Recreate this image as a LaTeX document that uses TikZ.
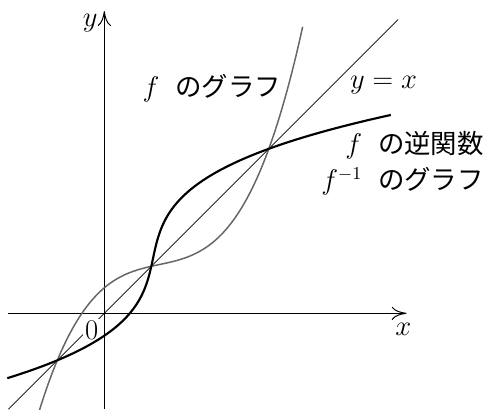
\documentclass[tikz,border=0pt]{standalone}
\usepackage{fontspec}
\newfontfamily\jpfont{Noto Sans CJK JP}
\usepackage{tikz}
\usetikzlibrary{arrows.meta, positioning}
\tikzstyle{axis} = [line width=0.6pt, -{To[length=9pt,width=8pt]}]
\tikzstyle{diag} = [line width=0.5pt]
\tikzstyle{fcurve} = [line width=0.9pt, black!60]
\tikzstyle{invcurve} = [line width=1.3pt, black]
\tikzstyle{lbl} = [font=\fontsize{16}{22}\selectfont]
\newcommand{\jgap}{\hspace{0.6em}}

\begin{document}
\begin{tikzpicture}[declare function={fc(\t)=\t+0.155*(\t*\t-1)*(\t-3.5);}]
\useasboundingbox (-2.219,-2.036) rectangle (8.121,6.666);

% Axes
\coordinate (xstart) at (-2.04,0);
\coordinate (xend) at (6.43,0);
\coordinate (ystart) at (0,-2.04);
\coordinate (yend) at (0,6.43);
\draw[axis] (xstart) -- (xend);
\draw[axis] (ystart) -- (yend);
\node[lbl, below=0.08cm of xend, xshift=-2pt] (xlab) {$x$};
\node[lbl, left=0.02cm of yend, yshift=-0.25cm] (ylab) {$y$};

% y = x
\coordinate (dstart) at (-2.04,-2.04);
\coordinate (dend) at (6.25,6.25);
\draw[diag] (dstart) -- (dend);

% Origin
\node[lbl, fill=white, inner sep=1pt] (orig) at (-0.27,-0.36) {$0$};

% f and its inverse
\draw[fcurve] plot[domain=-1.38:4.22, samples=150, smooth] (\x, {fc(\x)});
\draw[invcurve] plot[domain=-1.38:4.22, samples=150, smooth] ({fc(\x)}, \x);

% Labels
\node[lbl] (flab) at (2.29,4.79) {$f$\jgap{\jpfont のグラフ}};
\node[lbl] (dlab) at (5.94,4.86) {$y=x$};
\node[lbl, align=right, anchor=east, inner sep=0pt] (invlab) at (8.08,3.19)
  {$f$\jgap{\jpfont の逆関数}\\$f^{-1}$\jgap{\jpfont のグラフ}};
\end{tikzpicture}
\end{document}
